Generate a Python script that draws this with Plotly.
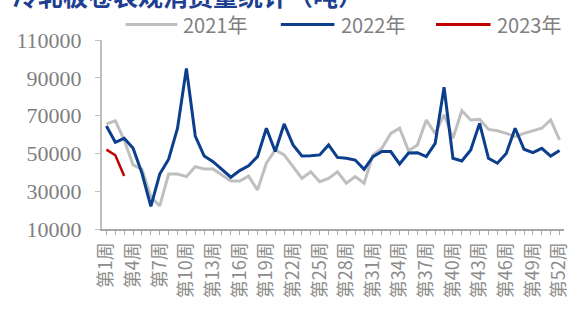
import plotly.graph_objects as go

weeks = [f"第{i}周" for i in range(1, 53)]
tick_labels = [w if (i % 3 == 0) else "" for i, w in enumerate(weeks)]

y2021 = [65600, 67200, 57100, 43900, 41600, 27100, 22200, 39100, 39100, 37700,
         43000, 41800, 41800, 38600, 35400, 35400, 38000, 30600, 44800, 51800,
         49200, 43000, 36800, 40300, 35000, 36800, 40300, 34200, 37700, 34200,
         49200, 52700, 60600, 63300, 51400, 54500, 67700, 60500, 70500, 58000,
         72600, 67700, 68000, 62700, 62000, 60600, 58900, 60600, 62000, 63300,
         67700, 57100]
y2022 = [64500, 55900, 58000, 52700, 39500, 22000, 39100, 46900, 63300, 95000,
         59200, 48600, 45600, 41600, 37400, 40900, 43500, 48300, 63300, 51000,
         65600, 54500, 48600, 48800, 49200, 54500, 47900, 47400, 46500, 41600,
         48300, 51000, 51000, 44400, 50200, 50400, 48300, 55300, 85000, 47400,
         46000, 51800, 65900, 47400, 44800, 50000, 63300, 52200, 50400, 52700,
         48600, 51500]
y2023 = [52000, 49000, 38000]

series_names = ["2021年", "2022年", "2023年"]
series_vals = [y2021, y2022, y2023]
series_colors = ["#bfbfbf", "#0b3e8c", "#c00000"]
series_widths = [3, 3, 2.5]

# legend placement (paper coords): line start, line end, text start
legend_pos = [(0.051, 0.163, 0.172), (0.387, 0.503, 0.512), (0.723, 0.841, 0.850)]
legend_y = 1.082

fig = go.Figure()
shapes, annotations = [], []
for name, vals, color, w, (lx0, lx1, tx) in zip(series_names, series_vals, series_colors,
                                                 series_widths, legend_pos):
    fig.add_trace(go.Scatter(
        x=weeks[:len(vals)], y=vals, name=name, mode="lines",
        line=dict(color=color, width=w), showlegend=False,
    ))
    shapes.append(dict(type="line", xref="paper", yref="paper",
                       x0=lx0, x1=lx1, y0=legend_y, y1=legend_y,
                       line=dict(color=color, width=3)))
    annotations.append(dict(text=name, xref="paper", yref="paper", x=tx, y=legend_y,
                            xanchor="left", yanchor="middle", showarrow=False,
                            font=dict(family="Noto Sans CJK SC", size=20, color="#808080")))

annotations.append(dict(
    text="<b>冷轧板卷表观消费量统计（吨）</b>", xref="paper", yref="paper",
    x=-0.198, y=1.236, xanchor="left", yanchor="middle", showarrow=False,
    font=dict(family="Noto Sans CJK SC", size=25, color="#1f3f91"),
))

fig.update_layout(
    width=578, height=311,
    margin=dict(l=102, r=8, t=40, b=82),
    paper_bgcolor="white", plot_bgcolor="white",
    showlegend=False,
    shapes=shapes, annotations=annotations,
)
fig.update_xaxes(
    type="category", categoryorder="array", categoryarray=weeks,
    range=[-0.5, 51.5],
    tickmode="array", tickvals=weeks, ticktext=tick_labels,
    tickangle=-90, ticks="outside", ticklen=4, tickcolor="#a6a6a6", tickwidth=1,
    showline=True, linecolor="#a6a6a6", linewidth=2, showgrid=False, zeroline=False,
    tickfont=dict(family="Noto Sans CJK SC", size=18, color="#8c8c8c"),
)
fig.update_yaxes(
    range=[10000, 110000], tickmode="linear", tick0=10000, dtick=20000,
    tickformat="d",
    ticks="outside", ticklen=5, tickcolor="#bfbfbf", ticklabelstandoff=9,
    showline=True, linecolor="#bfbfbf", linewidth=2, showgrid=False, zeroline=False,
    tickfont=dict(family="Liberation Serif", size=22, color="#7f7f7f"),
)

fig.write_html("out.html", config={"displayModeBar": False},
               post_script="document.body.style.margin='0px';document.body.style.overflow='hidden';")
